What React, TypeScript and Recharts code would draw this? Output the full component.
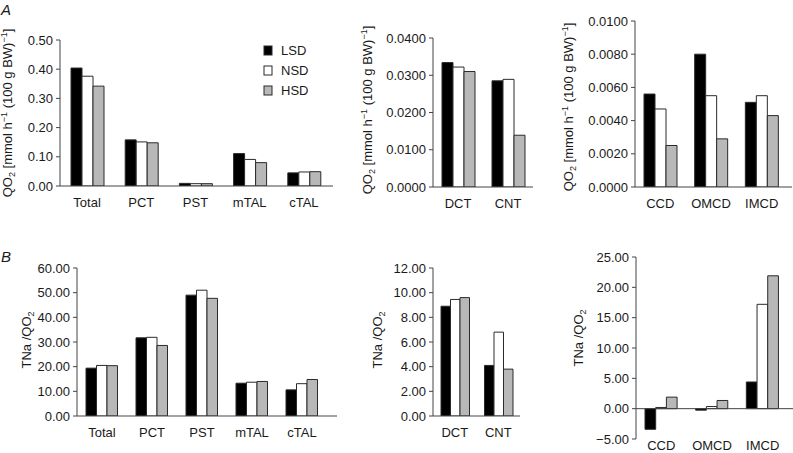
import { BarChart, Bar, XAxis, YAxis, ReferenceLine } from 'recharts';

const FONT = '"Liberation Sans", Arial, Helvetica, sans-serif';
const INK = '#1a1a1a';
const AXIS = '#444';

const SERIES = ['LSD', 'NSD', 'HSD'];
const SERIES_FILL: Record<string, string> = { LSD: '#000000', NSD: '#ffffff', HSD: '#b8b8b8' };

// panel A: QO2
const segMain = ['Total', 'PCT', 'PST', 'mTAL', 'cTAL'];
const qo2MainLSD = [0.404, 0.158, 0.009, 0.111, 0.045];
const qo2MainNSD = [0.376, 0.151, 0.008, 0.091, 0.048];
const qo2MainHSD = [0.342, 0.148, 0.008, 0.080, 0.049];

const segDistal = ['DCT', 'CNT'];
const qo2DistalLSD = [0.0334, 0.0285];
const qo2DistalNSD = [0.0322, 0.0289];
const qo2DistalHSD = [0.0310, 0.0139];

const segDuct = ['CCD', 'OMCD', 'IMCD'];
const qo2DuctLSD = [0.0056, 0.0080, 0.0051];
const qo2DuctNSD = [0.0047, 0.0055, 0.0055];
const qo2DuctHSD = [0.0025, 0.0029, 0.0043];

// panel B: TNa/QO2
const tnaMainLSD = [19.4, 31.7, 49.0, 13.3, 10.6];
const tnaMainNSD = [20.5, 31.9, 51.0, 13.7, 13.1];
const tnaMainHSD = [20.4, 28.6, 47.7, 14.0, 14.8];

const tnaDistalLSD = [8.9, 4.1];
const tnaDistalNSD = [9.45, 6.8];
const tnaDistalHSD = [9.6, 3.8];

const tnaDuctLSD = [-3.4, -0.25, 4.4];
const tnaDuctNSD = [0.2, 0.35, 17.2];
const tnaDuctHSD = [1.9, 1.35, 21.9];

const ticksQo2Main = [0, 0.1, 0.2, 0.3, 0.4, 0.5];
const ticksQo2Distal = [0, 0.01, 0.02, 0.03, 0.04];
const ticksQo2Duct = [0, 0.002, 0.004, 0.006, 0.008, 0.01];
const ticksTnaMain = [0, 10, 20, 30, 40, 50, 60];
const ticksTnaDistal = [0, 2, 4, 6, 8, 10, 12];
const ticksTnaDuct = [-5, 0, 5, 10, 15, 20, 25];

const rows = (cats: string[], lsd: number[], nsd: number[], hsd: number[]) =>
  cats.map((name, i) => ({ name, LSD: lsd[i], NSD: nsd[i], HSD: hsd[i] }));

const fmt = (digits: number) => (v: number) =>
  (v < 0 ? '\u2212' : '') + Math.abs(v).toFixed(digits);

const tickStyle = { fontSize: 13, fill: INK, fontFamily: FONT };

interface PanelProps {
  left: number;
  top: number;
  width: number;
  height: number;
  marginTop: number;
  marginRight: number;
  yWidth: number;
  data: any[];
  ticks: number[];
  digits: number;
  barSize: number;
  padRight?: number;
  zeroAxis?: boolean;
}

function Panel(p: PanelProps) {
  const domain: [number, number] = [p.ticks[0], p.ticks[p.ticks.length - 1]];
  return (
    <div style={{ position: 'absolute', left: p.left, top: p.top }}>
      <BarChart
        width={p.width}
        height={p.height}
        data={p.data}
        margin={{ top: p.marginTop, right: p.marginRight, bottom: 0, left: 0 }}
        barGap={0}
      >
        <XAxis
          dataKey="name"
          height={p.zeroAxis ? 14 : 29}
          tickLine={false}
          axisLine={p.zeroAxis ? false : { stroke: AXIS }}
          tickSize={p.zeroAxis ? 0 : 6}
          tickMargin={p.zeroAxis ? 2 : 6}
          tick={tickStyle}
          padding={{ left: 0, right: p.padRight || 0 }}
          interval={0}
        />
        <YAxis
          width={p.yWidth}
          domain={domain}
          ticks={p.ticks}
          interval={0}
          tickFormatter={fmt(p.digits)}
          tick={tickStyle}
          tickSize={4}
          tickMargin={3}
          axisLine={{ stroke: AXIS }}
          tickLine={{ stroke: AXIS }}
          allowDataOverflow
        />
        {p.zeroAxis && <ReferenceLine y={0} stroke={AXIS} />}
        {SERIES.map((s) => (
          <Bar
            key={s}
            dataKey={s}
            barSize={p.barSize}
            fill={SERIES_FILL[s]}
            stroke="#2a2a2a"
            strokeWidth={1}
            isAnimationActive={false}
          />
        ))}
      </BarChart>
    </div>
  );
}

function QO2Title({ x, y }: { x: number; y: number }) {
  return (
    <text x={x} y={y} transform={`rotate(-90 ${x} ${y})`} textAnchor="middle" fontSize={13} fill={INK}>
      QO<tspan fontSize={9} dy={3}>2</tspan>
      <tspan dy={-3}> [mmol h</tspan>
      <tspan fontSize={9} dy={-5}>{'\u22121'}</tspan>
      <tspan dy={5}> (100 g BW)</tspan>
      <tspan fontSize={9} dy={-5}>{'\u22121'}</tspan>
      <tspan dy={5}>]</tspan>
    </text>
  );
}

function TnaTitle({ x, y }: { x: number; y: number }) {
  return (
    <text x={x} y={y} transform={`rotate(-90 ${x} ${y})`} textAnchor="middle" fontSize={13} fill={INK}>
      TNa /QO<tspan fontSize={9} dy={3}>2</tspan>
    </text>
  );
}

export default function App() {
  return (
    <div
      style={{
        position: 'absolute',
        left: 0,
        top: 0,
        width: 793,
        height: 453,
        background: '#fff',
        fontFamily: FONT,
        overflow: 'hidden',
      }}
    >
      <Panel left={0} top={0} width={340} height={215} marginTop={40} marginRight={7} yWidth={60}
        data={rows(segMain, qo2MainLSD, qo2MainNSD, qo2MainHSD)} ticks={ticksQo2Main} digits={2} barSize={11} padRight={2} />
      <Panel left={360} top={0} width={180} height={216} marginTop={38} marginRight={7} yWidth={73}
        data={rows(segDistal, qo2DistalLSD, qo2DistalNSD, qo2DistalHSD)} ticks={ticksQo2Distal} digits={4} barSize={11} />
      <Panel left={560} top={0} width={233} height={216} marginTop={21} marginRight={1} yWidth={75}
        data={rows(segDuct, qo2DuctLSD, qo2DuctNSD, qo2DuctHSD)} ticks={ticksQo2Duct} digits={4} barSize={11} padRight={5} />

      <Panel left={0} top={220} width={345} height={225} marginTop={48} marginRight={8} yWidth={77}
        data={rows(segMain, tnaMainLSD, tnaMainNSD, tnaMainHSD)} ticks={ticksTnaMain} digits={2} barSize={10.5} padRight={10} />
      <Panel left={360} top={220} width={167} height={225} marginTop={48} marginRight={7} yWidth={73}
        data={rows(segDistal, tnaDistalLSD, tnaDistalNSD, tnaDistalHSD)} ticks={ticksTnaDistal} digits={2} barSize={9.5} />
      <Panel left={560} top={220} width={233} height={233} marginTop={37} marginRight={0} yWidth={76}
        data={rows(segDuct, tnaDuctLSD, tnaDuctNSD, tnaDuctHSD)} ticks={ticksTnaDuct} digits={2} barSize={10.7} padRight={5} zeroAxis />

      <svg width={793} height={453} style={{ position: 'absolute', left: 0, top: 0, pointerEvents: 'none', fontFamily: FONT }}>
        <text x={1} y={15} fontSize={15} fontStyle="italic" fill={INK}>A</text>
        <text x={1} y={262} fontSize={15} fontStyle="italic" fill={INK}>B</text>

        <QO2Title x={12} y={113} />
        <QO2Title x={372} y={110} />
        <QO2Title x={573} y={107} />
        <TnaTitle x={31} y={340} />
        <TnaTitle x={382} y={340} />
        <TnaTitle x={583} y={338} />

        {SERIES.map((s, i) => (
          <g key={s}>
            <rect x={264} y={46 + i * 20} width={8} height={9} fill={SERIES_FILL[s]} stroke="#2a2a2a" />
            <text x={281} y={55 + i * 20} fontSize={13} fill={INK}>{s}</text>
          </g>
        ))}
      </svg>
    </div>
  );
}
